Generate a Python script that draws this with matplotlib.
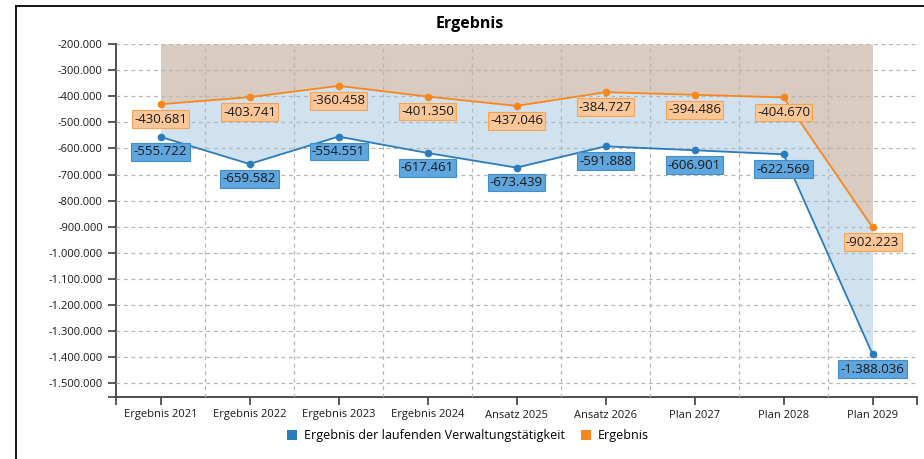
import matplotlib
matplotlib.use("Agg")
import matplotlib.pyplot as plt
from matplotlib.lines import Line2D
from matplotlib.patches import Patch
from matplotlib.ticker import FuncFormatter, MultipleLocator, FixedLocator

categories = ["Ergebnis 2021", "Ergebnis 2022", "Ergebnis 2023", "Ergebnis 2024",
              "Ansatz 2025", "Ansatz 2026", "Plan 2027", "Plan 2028", "Plan 2029"]
laufend = [-555722, -659582, -554551, -617461, -673439, -591888, -606901, -622569, -1388036]
ergebnis = [-430681, -403741, -360458, -401350, -437046, -384727, -394486, -404670, -902223]
series_names = ["Ergebnis der laufenden Verwaltungstätigkeit", "Ergebnis"]
y_top = -200000
y_bottom = -1552000

plt.rcParams['font.family'] = ['Open Sans', 'DejaVu Sans']

BLUE = "#2a7cba"
ORANGE = "#f8861d"
BROWN_FILL = "#d9cbbf"
BLUE_FILL = "#d0e2f0"

W, H = 924, 459
fig = plt.figure(figsize=(W / 100, H / 100), dpi=100)
ax = fig.add_axes([116 / W, 1 - 397 / H, (917 - 116) / W, (397 - 44) / H])

x = list(range(len(categories)))
n = len(categories)

ax.fill_between(x, [y_top] * n, ergebnis, color=BROWN_FILL, linewidth=0, zorder=1)
ax.fill_between(x, ergebnis, laufend, color=BLUE_FILL, linewidth=0, zorder=1)

ax.plot(x, laufend, color=BLUE, lw=1.3, marker='o', ms=4.5, zorder=4)
ax.plot(x, ergebnis, color=ORANGE, lw=1.3, marker='o', ms=4.5, zorder=4)

for xi, v in zip(x, laufend):
    ax.annotate(f"{v:,}".replace(",", "."), (xi, v), xytext=(0, -15), textcoords='offset pixels',
                ha='center', va='center', fontsize=9.5, color='#1a1a1a', zorder=6,
                bbox=dict(boxstyle='square,pad=0.18', fc='#5fa6de', ec='#3f8fcf', lw=0.8))
for xi, v in zip(x, ergebnis):
    ax.annotate(f"{v:,}".replace(",", "."), (xi, v), xytext=(0, -15), textcoords='offset pixels',
                ha='center', va='center', fontsize=9.5, color='#1a1a1a', zorder=6,
                bbox=dict(boxstyle='square,pad=0.18', fc='#fbc799', ec='#f7a457', lw=0.8))

ax.set_xlim(-0.5, n - 0.5)
ax.set_ylim(y_bottom, y_top)

ax.yaxis.set_major_locator(MultipleLocator(100000))
ax.yaxis.set_major_formatter(FuncFormatter(lambda v, p: f"{int(round(v)):,}".replace(",", ".")))
ax.yaxis.set_minor_locator(FixedLocator([y_bottom]))

ax.set_xticks([-0.5] + x + [n - 0.5])
ax.set_xticklabels([""] + categories + [""])
ax.xaxis.set_minor_locator(FixedLocator([i + 0.5 for i in x]))

ax.tick_params(axis='both', which='major', labelsize=8, colors='#404040', labelcolor='#1a1a1a',
               length=6, width=1.2)
ax.tick_params(axis='y', which='minor', length=6, width=1.2, colors='#404040')
ax.tick_params(axis='x', which='minor', length=0)
ax.tick_params(axis='x', which='major', pad=3)

ax.grid(True, axis='y', which='major', color='#b5b5b5', ls=(0, (3, 3)), lw=0.9)
ax.grid(True, axis='x', which='minor', color='#b5b5b5', ls=(0, (3, 3)), lw=0.9)
ax.grid(False, axis='x', which='major')
ax.set_axisbelow(False)

for s in ['top', 'right']:
    ax.spines[s].set_visible(False)
for s in ['left', 'bottom']:
    ax.spines[s].set_color('#404040')
    ax.spines[s].set_linewidth(1.3)

fig.text(470 / W, 1 - 24 / H, "Ergebnis", ha='center', va='center', fontsize=11.5, fontweight='bold')

handles = [Patch(facecolor=BLUE, edgecolor='none'), Patch(facecolor=ORANGE, edgecolor='none')]
fig.legend(handles, series_names, loc='center', bbox_to_anchor=(468 / W, 1 - 436 / H), ncol=2,
           frameon=False, fontsize=9, handlelength=0.8, handleheight=0.8, handletextpad=0.6,
           columnspacing=1.2)

fig.add_artist(Line2D([16 / W, 16 / W], [0, 1 - 6 / H], color='black', lw=1.3))
fig.add_artist(Line2D([16 / W, 1], [1 - 6 / H, 1 - 6 / H], color='black', lw=1.3))

fig.savefig("out.png", dpi=100)
